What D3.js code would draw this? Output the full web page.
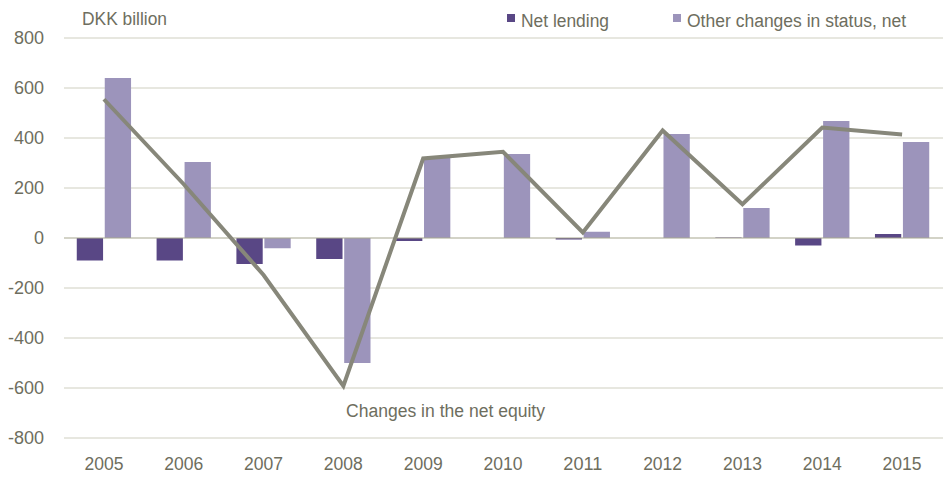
<!DOCTYPE html>
<html><head><meta charset="utf-8">
<script src="https://cdn.jsdelivr.net/npm/d3@7"></script>
<style>body{margin:0;background:#fff}svg{display:block}text{font-family:"Liberation Sans Narrow","Arial Narrow","Liberation Sans",sans-serif;fill:#6e6e5e}</style>
</head><body><svg id="c" width="943" height="477"></svg>
<script>
const years = ["2005","2006","2007","2008","2009","2010","2011","2012","2013","2014","2015"];
const netLending = [-90,-90,-104,-84,-12,0,-6,0,2,-30,16];
const otherChanges = [640,304,-41,-500,322,336,25,416,120,468,384];
const netEquity = [555,215,-148,-592,318,345,22,430,135,442,414];
const yTicks = [-800,-600,-400,-200,0,200,400,600,800];
const seriesNames = ["Net lending","Other changes in status, net"];
const colors = ["#594785","#9c94bb"];

const svg = d3.select("#c");
const y = d3.scaleLinear().domain([-800,800]).range([438,38]);
const x0 = d3.scaleBand().domain(years).range([64,942]).paddingInner(0.32).paddingOuter(0.16);
const x1 = d3.scaleBand().domain([0,1]).range([0,x0.bandwidth()]).paddingInner(0.06);

svg.append("g").selectAll("line").data(yTicks.filter(d=>d!==0)).join("line")
  .attr("x1",64).attr("x2",943).attr("y1",d=>y(d)).attr("y2",d=>y(d))
  .attr("stroke","#cfcfc0").attr("stroke-width",1);

svg.append("g").selectAll("text").data(yTicks).join("text")
  .attr("x",44).attr("y",d=>y(d)+6).attr("text-anchor","end")
  .attr("font-size",18).text(d=>d);

const data = years.map((yr,i)=>({yr, v:[netLending[i],otherChanges[i]]}));
const g = svg.append("g").selectAll("g").data(data).join("g")
  .attr("transform",d=>`translate(${x0(d.yr)},0)`);
g.selectAll("rect").data(d=>d.v.map((v,k)=>({v,k}))).join("rect")
  .attr("x",d=>x1(d.k)).attr("width",x1.bandwidth())
  .attr("y",d=>y(Math.max(0,d.v))).attr("height",d=>Math.abs(y(d.v)-y(0)))
  .attr("fill",d=>colors[d.k]);

svg.append("line").attr("x1",64).attr("x2",943).attr("y1",y(0)).attr("y2",y(0))
  .attr("stroke","#a8a890").attr("stroke-width",1.2);

const line = d3.line().x((d,i)=>x0(years[i])+x0.bandwidth()/2).y(d=>y(d));
svg.append("path").datum(netEquity).attr("d",line)
  .attr("fill","none").attr("stroke","#87877a").attr("stroke-width",4).attr("stroke-linejoin","miter");

svg.append("g").selectAll("text").data(years).join("text")
  .attr("x",d=>x0(d)+x0.bandwidth()/2).attr("y",470).attr("text-anchor","middle")
  .attr("font-size",18).attr("textLength",39).attr("lengthAdjust","spacingAndGlyphs").text(d=>d);
svg.append("text").attr("x",82).attr("y",25).attr("font-size",18)
  .attr("textLength",85).attr("lengthAdjust","spacingAndGlyphs").text("DKK billion");
svg.append("text").attr("x",346).attr("y",417).attr("font-size",18)
  .attr("textLength",199).attr("lengthAdjust","spacingAndGlyphs").text("Changes in the net equity");

const lx = [507,673];
const lw = [88,219];
seriesNames.forEach((n,i)=>{
  svg.append("rect").attr("x",lx[i]).attr("y",14).attr("width",8).attr("height",8).attr("fill",colors[i]);
  svg.append("text").attr("x",lx[i]+14).attr("y",27).attr("font-size",18)
    .attr("textLength",lw[i]).attr("lengthAdjust","spacingAndGlyphs").text(n);
});
</script></body></html>
